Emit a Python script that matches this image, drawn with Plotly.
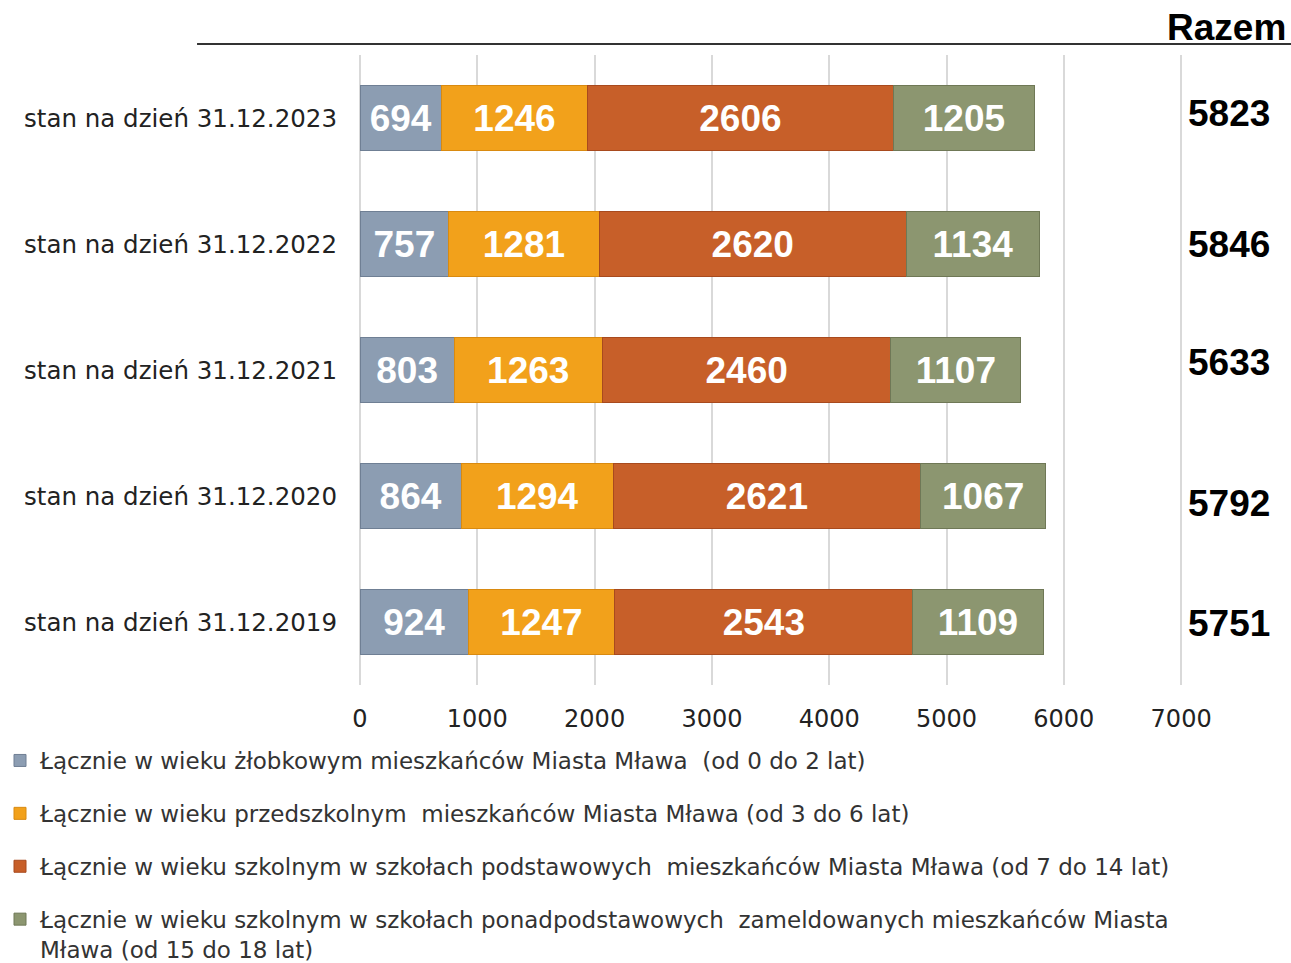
import plotly.graph_objects as go

# ---- data (bottom to top) ----
categories = [
    "stan na dzień 31.12.2019",
    "stan na dzień 31.12.2020",
    "stan na dzień 31.12.2021",
    "stan na dzień 31.12.2022",
    "stan na dzień 31.12.2023",
]
zlobkowy = [924, 864, 803, 757, 694]
przedszkolny = [1247, 1294, 1263, 1281, 1246]
podstawowy = [2543, 2621, 2460, 2620, 2606]
ponadpodstawowy = [1109, 1067, 1107, 1134, 1205]
# "Razem" column exactly as printed in the chart (bottom to top)
razem = [5751, 5792, 5633, 5846, 5823]

series_names = [
    "Łącznie w wieku żłobkowym mieszkańców Miasta Mława  (od 0 do 2 lat)",
    "Łącznie w wieku przedszkolnym  mieszkańców Miasta Mława (od 3 do 6 lat)",
    "Łącznie w wieku szkolnym w szkołach podstawowych  mieszkańców Miasta Mława (od 7 do 14 lat)",
    "Łącznie w wieku szkolnym w szkołach ponadpodstawowych  zameldowanych mieszkańców Miasta<br>Mława (od 15 do 18 lat)",
]
x_ticks = [0, 1000, 2000, 3000, 4000, 5000, 6000, 7000]

# ---- styles ----
colors = ["#8C9DB2", "#F2A11B", "#C75F29", "#8C9670"]
edge = ["#6F7F94", "#D98A10", "#A84A1E", "#6F7856"]
razem_nudge = [-1, -7, 8, 0, 5]  # small vertical offsets (px) of the totals

TEXT_FONT = "DejaVu Sans"
BOLD_FONT = "Liberation Sans"

fig = go.Figure()
for vals, name, col, ec in zip(
    [zlobkowy, przedszkolny, podstawowy, ponadpodstawowy], series_names, colors, edge
):
    fig.add_trace(
        go.Bar(
            y=categories,
            x=vals,
            name=name,
            orientation="h",
            marker=dict(color=col, line=dict(color=ec, width=1)),
            text=[str(v) for v in vals],
            textposition="inside",
            insidetextanchor="middle",
            textangle=0,
            constraintext="none",
            textfont=dict(family=BOLD_FONT, size=37, color="white", weight="bold"),
            width=0.51,
            legendgroup=name,
            hoverinfo="x+name",
        )
    )

# totals column
for cat, tot, dy in zip(categories, razem, razem_nudge):
    fig.add_annotation(
        x=1.056, xref="paper", y=cat, yref="y",
        text=f"<b>{tot}</b>", showarrow=False,
        xanchor="center", yanchor="middle", yshift=dy,
        font=dict(family=BOLD_FONT, size=37, color="black"),
    )

# header "Razem"
fig.add_annotation(
    x=1.127, xref="paper", y=1.044, yref="paper",
    text="<b>Razem</b>", showarrow=False,
    xanchor="right", yanchor="middle",
    font=dict(family=BOLD_FONT, size=37, color="black"),
)
# line under header
fig.add_shape(
    type="line", xref="paper", yref="paper",
    x0=-0.198, x1=1.134, y0=1.0175, y1=1.0175,
    line=dict(color="#333333", width=2),
)

fig.update_layout(
    width=1291,
    height=963,
    margin=dict(l=360, r=108, t=55, b=278, autoexpand=False),
    barmode="stack",
    bargap=0.49,
    plot_bgcolor="white",
    paper_bgcolor="white",
    showlegend=True,
    legend=dict(
        xref="container", yref="container",
        x=0.0, y=0.2326, xanchor="left", yanchor="top",
        traceorder="grouped",
        tracegroupgap=20,
        valign="top",
        font=dict(family=TEXT_FONT, size=23, color="#333333"),
        itemclick=False,
    ),
    xaxis=dict(
        range=[0, 7016],
        tickvals=x_ticks,
        ticktext=[str(t) for t in x_ticks],
        showgrid=True,
        gridcolor="#D9D9D9",
        gridwidth=2,
        zeroline=True,
        zerolinecolor="#D9D9D9",
        zerolinewidth=2,
        showline=False,
        ticks="",
        tickangle=0,
        ticklabelstandoff=17,
        tickfont=dict(family=TEXT_FONT, size=24, color="#222222"),
        fixedrange=True,
    ),
    yaxis=dict(
        categoryorder="array",
        categoryarray=categories,
        showgrid=False,
        zeroline=False,
        showline=False,
        ticks="",
        ticklabelstandoff=22,
        tickfont=dict(family=TEXT_FONT, size=24.5, color="#222222"),
        fixedrange=True,
    ),
)

fig.write_html(
    "out.html",
    config={"displayModeBar": False},
    post_script="document.body.style.margin='0';document.body.style.padding='0';",
)
